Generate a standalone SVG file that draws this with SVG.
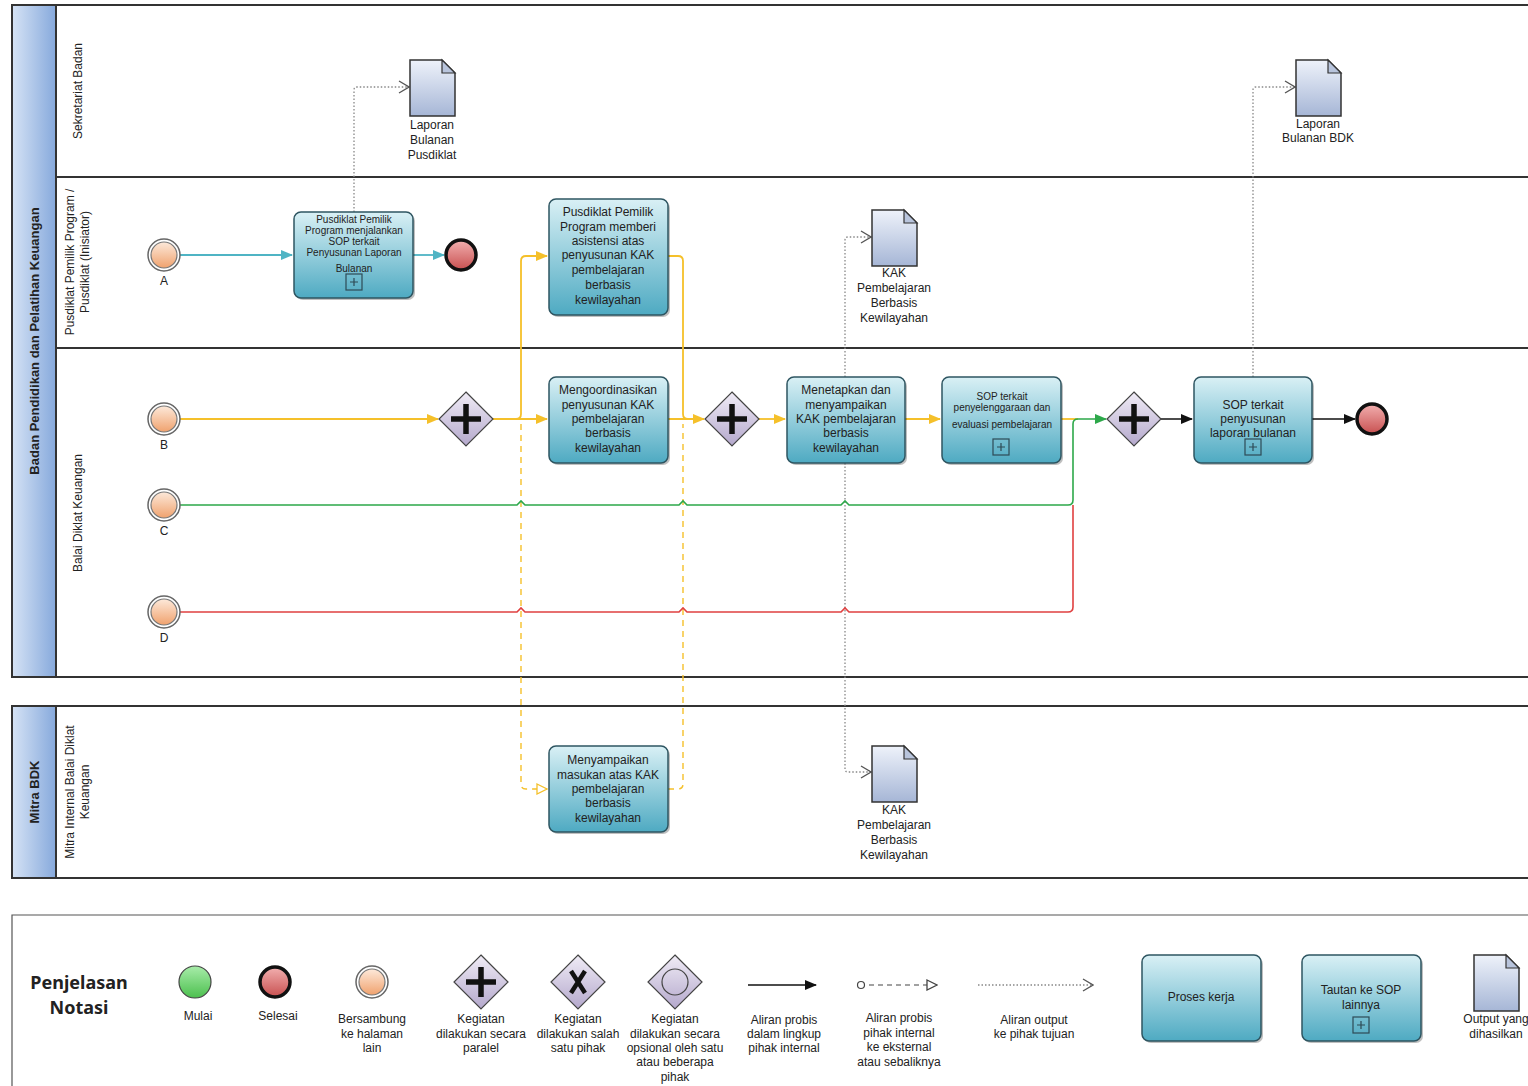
<svg xmlns="http://www.w3.org/2000/svg" width="1528" height="1086" viewBox="0 0 1528 1086">
<style>
text{font-family:"Liberation Sans",Arial,sans-serif;fill:#222;}
.t{font-size:12px;text-anchor:middle;dominant-baseline:central;}
.ts{font-size:10px;text-anchor:middle;dominant-baseline:central;}
.lane{font-size:12px;text-anchor:middle;dominant-baseline:central;}
.pool{font-size:13px;font-weight:bold;text-anchor:middle;dominant-baseline:central;}
.task{fill:url(#gTask);stroke:#2e5561;stroke-width:1.5;}
.shadow{fill:#000;opacity:0.25;}
.gw{fill:url(#gGw);stroke:#444;stroke-width:1.2;}
.cross{stroke:#111;stroke-width:5.5;fill:none;}
.doc{fill:url(#gDoc);stroke:#333;stroke-width:1.5;}
.fold{fill:#b8c4dc;stroke:#333;stroke-width:1.2;}
.plus{fill:none;stroke:#2e4a55;stroke-width:1.2;}
.border{stroke:#333;stroke-width:2;fill:none;}
.yl{stroke:#f5c02a;stroke-width:1.8;fill:none;}
.yd{stroke:#f5c02a;stroke-width:1.4;fill:none;stroke-dasharray:6 5;}
.dot{stroke:#888;stroke-width:1.3;fill:none;stroke-dasharray:1.5 2;}
</style>
<defs>
<linearGradient id="gTask" x1="0" y1="0" x2="0" y2="1"><stop offset="0" stop-color="#d9f0f5"/><stop offset="1" stop-color="#4eaac2"/></linearGradient>
<linearGradient id="gGw" x1="0" y1="0" x2="0" y2="1"><stop offset="0" stop-color="#f0ecf6"/><stop offset="1" stop-color="#b4a8cc"/></linearGradient>
<linearGradient id="gDoc" x1="0" y1="0" x2="0" y2="1"><stop offset="0" stop-color="#eef2fa"/><stop offset="1" stop-color="#a6b6d6"/></linearGradient>
<linearGradient id="gStart" x1="0" y1="0" x2="0" y2="1"><stop offset="0" stop-color="#fde9da"/><stop offset="1" stop-color="#f0a26e"/></linearGradient>
<linearGradient id="gEnd" x1="0" y1="0" x2="0" y2="1"><stop offset="0" stop-color="#f2b0b0"/><stop offset="1" stop-color="#c85050"/></linearGradient>
<linearGradient id="gGreen" x1="0" y1="0" x2="0" y2="1"><stop offset="0" stop-color="#a8ecaa"/><stop offset="1" stop-color="#4cc04e"/></linearGradient>
<linearGradient id="gPool" x1="0" y1="0" x2="1" y2="0"><stop offset="0" stop-color="#d6e3f5"/><stop offset="1" stop-color="#86a9dc"/></linearGradient>
<marker id="aY" markerWidth="12" markerHeight="10" refX="11" refY="5" orient="auto" markerUnits="userSpaceOnUse"><path d="M0,0 L12,5 L0,10 Z" fill="#f5c02a"/></marker>
<marker id="aT" markerWidth="12" markerHeight="10" refX="11" refY="5" orient="auto" markerUnits="userSpaceOnUse"><path d="M0,0 L12,5 L0,10 Z" fill="#4fb4c4"/></marker>
<marker id="aG" markerWidth="12" markerHeight="10" refX="11" refY="5" orient="auto" markerUnits="userSpaceOnUse"><path d="M0,0 L12,5 L0,10 Z" fill="#2da84a"/></marker>
<marker id="aK" markerWidth="12" markerHeight="10" refX="11" refY="5" orient="auto" markerUnits="userSpaceOnUse"><path d="M0,0 L12,5 L0,10 Z" fill="#111"/></marker>
<marker id="aO" markerWidth="12" markerHeight="14" refX="11" refY="7" orient="auto" markerUnits="userSpaceOnUse"><path d="M1,1 L11,7 L1,13" fill="none" stroke="#555" stroke-width="1.3"/></marker>
<marker id="aYo" markerWidth="12" markerHeight="12" refX="11" refY="6" orient="auto" markerUnits="userSpaceOnUse"><path d="M1,1 L11,6 L1,11 Z" fill="#fff" stroke="#f5c02a" stroke-width="1.3"/></marker>
<marker id="aKo" markerWidth="12" markerHeight="12" refX="11" refY="6" orient="auto" markerUnits="userSpaceOnUse"><path d="M1,1 L11,6 L1,11 Z" fill="#fff" stroke="#444" stroke-width="1.3"/></marker>
<marker id="cK" markerWidth="10" markerHeight="10" refX="4" refY="5" orient="auto" markerUnits="userSpaceOnUse"><circle cx="5" cy="5" r="3.5" fill="#fff" stroke="#444" stroke-width="1.2"/></marker>
<g id="docShape"><path class="doc" d="M0,0 H32 L45,13 V56 H0 Z"/><path class="fold" d="M32,0 V13 H45 Z"/></g>
<g id="gwPlus"><path class="gw" d="M0,-27 L27,0 L0,27 L-27,0 Z"/><path class="cross" d="M-15,0 H15 M0,-15 V15"/></g>
<g id="startEv"><circle r="16" fill="#fff" stroke="#666" stroke-width="1.5"/><circle r="13" fill="url(#gStart)" stroke="#777" stroke-width="1.2"/></g>
<g id="endEv"><circle r="15" fill="url(#gEnd)" stroke="#111" stroke-width="3.5"/></g>
</defs>

<!-- Pools and lanes -->
<g id="pool-bppk">
<rect x="12" y="5" width="44" height="672" fill="url(#gPool)"/>
<path class="border" d="M1528,5 H12 V677 H1528 M56,5 V677 M56,177 H1528 M56,348 H1528"/>
<text class="pool" transform="translate(34,341) rotate(-90)">Badan Pendidikan dan Pelatihan Keuangan</text>
<text class="lane" transform="translate(78,91) rotate(-90)">Sekretariat Badan</text>
<text class="lane" transform="translate(70,262) rotate(-90)">Pusdiklat Pemilik Program /</text>
<text class="lane" transform="translate(85,262) rotate(-90)">Pusdiklat (Inisiator)</text>
<text class="lane" transform="translate(78,513) rotate(-90)">Balai Diklat Keuangan</text>
</g>
<g id="pool-mitra">
<rect x="12" y="706" width="44" height="172" fill="url(#gPool)"/>
<path class="border" d="M1528,706 H12 V878 H1528 M56,706 V878"/>
<text class="pool" transform="translate(34,792) rotate(-90)">Mitra BDK</text>
<text class="lane" transform="translate(70,792) rotate(-90)">Mitra Internal Balai Diklat</text>
<text class="lane" transform="translate(85,792) rotate(-90)">Keuangan</text>
</g>

<!-- Connectors -->
<g id="connectors">
<path d="M180,255 H292" stroke="#4fb4c4" stroke-width="1.8" fill="none" marker-end="url(#aT)"/>
<path d="M413,255 H444" stroke="#4fb4c4" stroke-width="1.8" fill="none" marker-end="url(#aT)"/>
<path class="dot" d="M354,212 V90 Q354,87 357,87 H409" marker-end="url(#aO)"/>
<path class="dot" d="M1253,377 V90 Q1253,87 1256,87 H1295" marker-end="url(#aO)"/>
<path class="dot" d="M845,377 V240 Q845,237 848,237 H871" marker-end="url(#aO)"/>
<path class="dot" d="M845,463 V769 Q845,772 848,772 H871" marker-end="url(#aO)"/>
<path class="yl" d="M180,419 H438" marker-end="url(#aY)"/>
<path class="yl" d="M493,419 H547" marker-end="url(#aY)"/>
<path class="yl" d="M516,419 Q521,419 521,414 V261 Q521,256 526,256 H547" marker-end="url(#aY)"/>
<path class="yd" d="M521,424 V784 Q521,789 526,789 H547" marker-end="url(#aYo)"/>
<path class="yl" d="M668,419 H704" marker-end="url(#aY)"/>
<path class="yl" d="M668,256 H678 Q683,256 683,261 V414 Q683,419 688,419"/>
<path class="yd" d="M668,789 H678 Q683,789 683,784 V424"/>
<path class="yl" d="M759,419 H785" marker-end="url(#aY)"/>
<path class="yl" d="M905,419 H940" marker-end="url(#aY)"/>
<path class="yl" d="M1061,419 H1078"/>
<path d="M180,505 H517 l4,-4 l4,4 H679 l4,-4 l4,4 H841 l4,-4 l4,4 H1068 Q1073,505 1073,500 V424 Q1073,419 1078,419 H1106" stroke="#2da84a" stroke-width="1.6" fill="none" marker-end="url(#aG)"/>
<path d="M180,612 H517 l4,-4 l4,4 H679 l4,-4 l4,4 H841 l4,-4 l4,4 H1068 Q1073,612 1073,607 V505" stroke="#e04040" stroke-width="1.6" fill="none"/>
<path d="M1161,419 H1192" stroke="#111" stroke-width="1.5" fill="none" marker-end="url(#aK)"/>
<path d="M1312,419 H1355" stroke="#111" stroke-width="1.5" fill="none" marker-end="url(#aK)"/>
</g>

<!-- Events -->
<g id="start-A"><use href="#startEv" x="164" y="255"/><text class="t" x="164" y="281">A</text></g>
<g id="start-B"><use href="#startEv" x="164" y="419"/><text class="t" x="164" y="445">B</text></g>
<g id="start-C"><use href="#startEv" x="164" y="505"/><text class="t" x="164" y="531">C</text></g>
<g id="start-D"><use href="#startEv" x="164" y="612"/><text class="t" x="164" y="638">D</text></g>
<g id="end-1"><use href="#endEv" x="461" y="255"/></g>
<g id="end-2"><use href="#endEv" x="1372" y="419"/></g>

<!-- Tasks -->
<g id="task-1">
<rect class="shadow" x="296" y="214" width="119" height="86" rx="7"/>
<rect class="task" x="294" y="212" width="119" height="86" rx="7"/>
<text class="ts" x="354" y="219">Pusdiklat Pemilik</text>
<text class="ts" x="354" y="230">Program menjalankan</text>
<text class="ts" x="354" y="241">SOP terkait</text>
<text class="ts" x="354" y="252">Penyusunan Laporan</text>
<text class="ts" x="354" y="268">Bulanan</text>
<rect class="plus" x="346" y="274" width="16" height="16"/><path class="plus" d="M350,282 H358 M354,278 V286"/>
</g>
<g id="task-2">
<rect class="shadow" x="551" y="201" width="119" height="116" rx="7"/>
<rect class="task" x="549" y="199" width="119" height="116" rx="7"/>
<text class="t" x="608" y="212">Pusdiklat Pemilik</text>
<text class="t" x="608" y="227">Program memberi</text>
<text class="t" x="608" y="241">asistensi atas</text>
<text class="t" x="608" y="255">penyusunan KAK</text>
<text class="t" x="608" y="270">pembelajaran</text>
<text class="t" x="608" y="285">berbasis</text>
<text class="t" x="608" y="300">kewilayahan</text>
</g>
<g id="task-3">
<rect class="shadow" x="551" y="379" width="119" height="86" rx="7"/>
<rect class="task" x="549" y="377" width="119" height="86" rx="7"/>
<text class="t" x="608" y="390">Mengoordinasikan</text>
<text class="t" x="608" y="405">penyusunan KAK</text>
<text class="t" x="608" y="419">pembelajaran</text>
<text class="t" x="608" y="433">berbasis</text>
<text class="t" x="608" y="448">kewilayahan</text>
</g>
<g id="task-4">
<rect class="shadow" x="789" y="379" width="118" height="86" rx="7"/>
<rect class="task" x="787" y="377" width="118" height="86" rx="7"/>
<text class="t" x="846" y="390">Menetapkan dan</text>
<text class="t" x="846" y="405">menyampaikan</text>
<text class="t" x="846" y="419">KAK pembelajaran</text>
<text class="t" x="846" y="433">berbasis</text>
<text class="t" x="846" y="448">kewilayahan</text>
</g>
<g id="task-5">
<rect class="shadow" x="944" y="379" width="119" height="86" rx="7"/>
<rect class="task" x="942" y="377" width="119" height="86" rx="7"/>
<text class="ts" x="1002" y="396">SOP terkait</text>
<text class="ts" x="1002" y="407">penyelenggaraan dan</text>
<text class="ts" x="1002" y="424">evaluasi pembelajaran</text>
<rect class="plus" x="993" y="439" width="16" height="16"/><path class="plus" d="M997,447 H1005 M1001,443 V451"/>
</g>
<g id="task-6">
<rect class="shadow" x="1196" y="379" width="118" height="86" rx="7"/>
<rect class="task" x="1194" y="377" width="118" height="86" rx="7"/>
<text class="t" x="1253" y="405">SOP terkait</text>
<text class="t" x="1253" y="419">penyusunan</text>
<text class="t" x="1253" y="433">laporan bulanan</text>
<rect class="plus" x="1245" y="439" width="16" height="16"/><path class="plus" d="M1249,447 H1257 M1253,443 V451"/>
</g>
<g id="task-7">
<rect class="shadow" x="551" y="748" width="119" height="86" rx="7"/>
<rect class="task" x="549" y="746" width="119" height="86" rx="7"/>
<text class="t" x="608" y="760">Menyampaikan</text>
<text class="t" x="608" y="775">masukan atas KAK</text>
<text class="t" x="608" y="789">pembelajaran</text>
<text class="t" x="608" y="803">berbasis</text>
<text class="t" x="608" y="818">kewilayahan</text>
</g>

<!-- Gateways -->
<g id="gateway-1"><use href="#gwPlus" x="466" y="419"/></g>
<g id="gateway-2"><use href="#gwPlus" x="732" y="419"/></g>
<g id="gateway-3"><use href="#gwPlus" x="1134" y="419"/></g>

<!-- Documents -->
<g id="doc-1"><use href="#docShape" x="410" y="60"/>
<text class="t" x="432" y="125">Laporan</text><text class="t" x="432" y="140">Bulanan</text><text class="t" x="432" y="155">Pusdiklat</text></g>
<g id="doc-2"><use href="#docShape" x="1296" y="60"/>
<text class="t" x="1318" y="124">Laporan</text><text class="t" x="1318" y="138">Bulanan BDK</text></g>
<g id="doc-3"><use href="#docShape" x="872" y="210"/>
<text class="t" x="894" y="273">KAK</text><text class="t" x="894" y="288">Pembelajaran</text><text class="t" x="894" y="303">Berbasis</text><text class="t" x="894" y="318">Kewilayahan</text></g>
<g id="doc-4"><use href="#docShape" x="872" y="746"/>
<text class="t" x="894" y="810">KAK</text><text class="t" x="894" y="825">Pembelajaran</text><text class="t" x="894" y="840">Berbasis</text><text class="t" x="894" y="855">Kewilayahan</text></g>

<!-- Legend -->
<g id="legend">
<path d="M1528,915 H12 V1086" stroke="#555" stroke-width="1.2" fill="none"/>
<text x="79" y="982" style="font-family:'Noto Sans','Open Sans',sans-serif;font-size:18px;font-weight:bold;text-anchor:middle;dominant-baseline:central">Penjelasan</text>
<text x="79" y="1007" style="font-family:'Noto Sans','Open Sans',sans-serif;font-size:18px;font-weight:bold;text-anchor:middle;dominant-baseline:central">Notasi</text>
<circle cx="195" cy="982" r="16" fill="url(#gGreen)" stroke="#444" stroke-width="1.2"/>
<text class="t" x="198" y="1016">Mulai</text>
<use href="#endEv" x="275" y="982"/>
<text class="t" x="278" y="1016">Selesai</text>
<use href="#startEv" x="372" y="982"/>
<text class="t" x="372" y="1019">Bersambung</text><text class="t" x="372" y="1034">ke halaman</text><text class="t" x="372" y="1048">lain</text>
<use href="#gwPlus" x="481" y="982"/>
<text class="t" x="481" y="1019">Kegiatan</text><text class="t" x="481" y="1034">dilakukan secara</text><text class="t" x="481" y="1048">paralel</text>
<path class="gw" d="M578,955 L605,982 L578,1009 L551,982 Z"/>
<path d="M571,971 L585,993 M585,971 L571,993" stroke="#111" stroke-width="4.5" fill="none"/>
<text class="t" x="578" y="1019">Kegiatan</text><text class="t" x="578" y="1034">dilakukan salah</text><text class="t" x="578" y="1048">satu pihak</text>
<path class="gw" d="M675,955 L702,982 L675,1009 L648,982 Z"/>
<circle cx="675" cy="982" r="13" fill="none" stroke="#444" stroke-width="1.2"/>
<text class="t" x="675" y="1019">Kegiatan</text><text class="t" x="675" y="1034">dilakukan secara</text><text class="t" x="675" y="1048">opsional oleh satu</text><text class="t" x="675" y="1062">atau beberapa</text><text class="t" x="675" y="1077">pihak</text>
<path d="M748,985 H816" stroke="#111" stroke-width="1.5" fill="none" marker-end="url(#aK)"/>
<text class="t" x="784" y="1020">Aliran probis</text><text class="t" x="784" y="1034">dalam lingkup</text><text class="t" x="784" y="1048">pihak internal</text>
<path d="M860,985 H937" stroke="#444" stroke-width="1.2" stroke-dasharray="5 4" fill="none" marker-start="url(#cK)" marker-end="url(#aKo)"/>
<text class="t" x="899" y="1018">Aliran probis</text><text class="t" x="899" y="1033">pihak internal</text><text class="t" x="899" y="1047">ke eksternal</text><text class="t" x="899" y="1062">atau sebaliknya</text>
<path class="dot" d="M978,985 H1093" marker-end="url(#aO)"/>
<text class="t" x="1034" y="1020">Aliran output</text><text class="t" x="1034" y="1034">ke pihak tujuan</text>
<rect class="shadow" x="1144" y="957" width="119" height="86" rx="7"/>
<rect class="task" x="1142" y="955" width="119" height="86" rx="7"/>
<text class="t" x="1201" y="997">Proses kerja</text>
<rect class="shadow" x="1304" y="957" width="119" height="86" rx="7"/>
<rect class="task" x="1302" y="955" width="119" height="86" rx="7"/>
<text class="t" x="1361" y="990">Tautan ke SOP</text><text class="t" x="1361" y="1005">lainnya</text>
<rect class="plus" x="1353" y="1017" width="16" height="16"/><path class="plus" d="M1357,1025 H1365 M1361,1021 V1029"/>
<use href="#docShape" x="1474" y="955"/>
<text class="t" x="1496" y="1019">Output yang</text><text class="t" x="1496" y="1034">dihasilkan</text>
</g>
</svg>
